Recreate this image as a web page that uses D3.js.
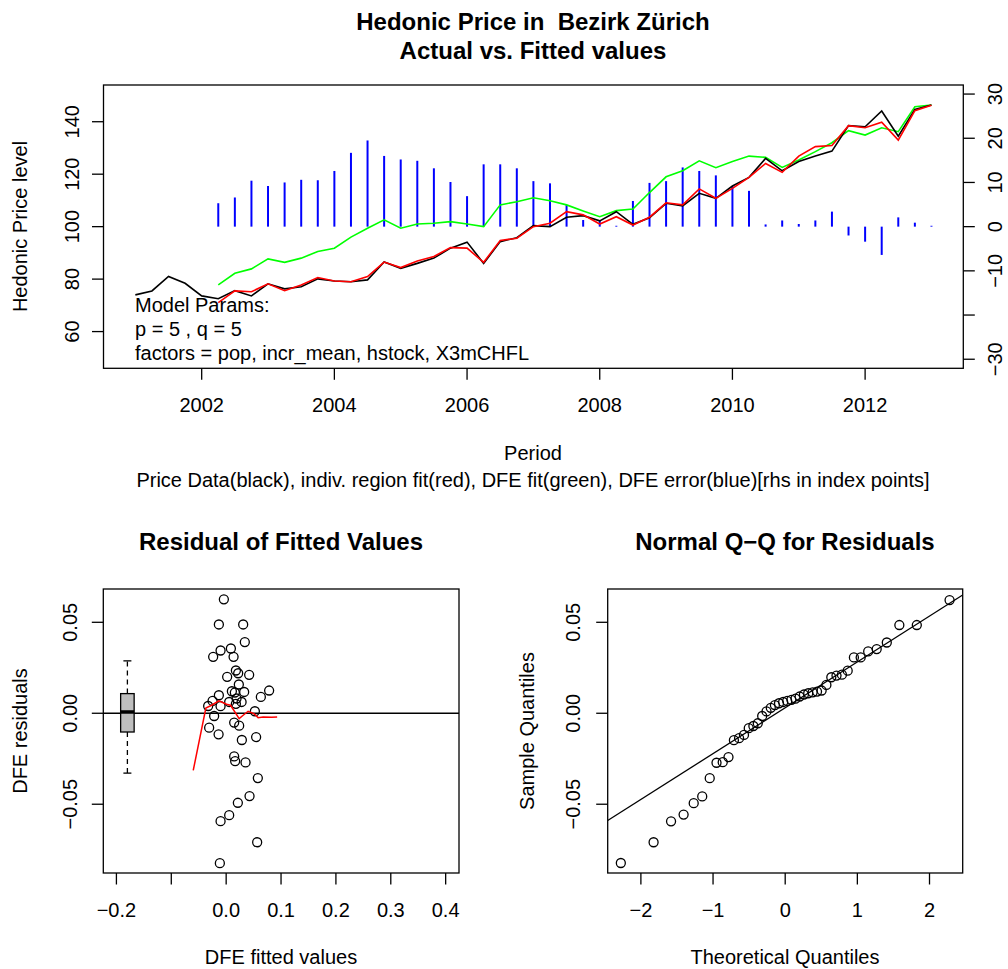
<!DOCTYPE html>
<html><head><meta charset="utf-8">
<script src="https://cdn.jsdelivr.net/npm/d3@7/dist/d3.min.js"></script>
<style>
body{margin:0;background:#fff}
text{font-family:"Liberation Sans",Arial,Helvetica,sans-serif;fill:#000}
</style>
</head><body><svg id="c" width="1008" height="969"></svg>
<script>
// ---------- top panel data ----------
const periods = [2001,2001.25,2001.5,2001.75,2002,2002.25,2002.5,2002.75,2003,2003.25,2003.5,2003.75,
  2004,2004.25,2004.5,2004.75,2005,2005.25,2005.5,2005.75,2006,2006.25,2006.5,2006.75,
  2007,2007.25,2007.5,2007.75,2008,2008.25,2008.5,2008.75,2009,2009.25,2009.5,2009.75,
  2010,2010.25,2010.5,2010.75,2011,2011.25,2011.5,2011.75,2012,2012.25,2012.5,2012.75,2013];
const actual = [74.0,75.5,81.0,78.4,73.6,72.5,75.6,73.6,78.2,76.3,77.1,80.1,
  79.3,79.0,79.7,86.5,84.1,86.0,88.0,91.8,94.1,86.0,94.3,95.8,
  100.4,100.0,103.6,104.2,102.2,105.7,100.9,103.4,108.9,107.9,112.7,110.8,
  115.5,118.8,126.0,121.3,124.8,126.9,128.8,138.5,138.1,144.1,134.5,144.7,146.4];
const periodsFit = periods.slice(5);
const regionFit = [71.0,75.5,75.2,78.2,75.6,77.8,80.6,79.3,79.0,81.0,86.5,
  84.4,86.9,88.6,92.0,91.8,86.4,94.7,95.6,100.0,101.3,105.7,104.5,
  101.0,103.8,100.6,103.6,109.1,108.3,114.4,110.8,114.6,118.8,124.1,120.7,
  126.9,130.5,130.9,138.5,137.7,139.8,133.0,144.2,146.3];
const dfeFit = [77.8,82.2,83.9,87.7,86.4,88.0,90.5,91.8,96.0,99.4,102.6,
  99.4,101.0,101.3,101.9,101.0,100.0,108.3,109.5,111.0,109.9,108.3,106.0,
  103.8,106.1,106.7,113.0,119.0,121.3,125.1,122.5,124.8,126.9,126.4,122.6,
  125.4,128.6,132.0,136.6,134.9,137.7,136.2,145.7,146.4];
const dfeError = [5.3,6.6,10.4,9.2,10.0,10.6,10.5,12.6,16.7,19.5,16.0,
  15.2,14.9,13.2,10.1,6.9,14.1,14.1,13.2,10.3,9.8,4.9,1.5,
  1.5,0.2,5.8,9.9,10.3,13.4,12.6,11.6,9.2,8.1,0.5,1.4,
  0.6,1.4,3.4,-2.0,-3.4,-6.4,2.1,0.9,0.2];
const yearTicks = [2002,2004,2006,2008,2010,2012];
const leftTicks = [60,80,100,120,140];
const rightTicks = [-30,-20,-10,0,10,20,30];
const rightTickLabels = ["\u221230","","\u221210","0","10","20","30"];
const modelText = ["Model Params:","p = 5 , q = 5","factors = pop, incr_mean, hstock, X3mCHFL"];

// ---------- residual scatter data ----------
const fitted = [-0.0042,-0.0133,0.031,0.034,-0.0102,0.0086,-0.0237,0.0135,0.0177,0.0219,0.0419,
  0.0018,0.0231,0.0104,0.0328,0.0783,0.0632,-0.0133,-0.0248,0.0158,0.0189,0.0281,
  0.0055,-0.0328,-0.0102,0.0523,-0.0219,0.0146,0.0237,-0.031,-0.0138,0.0546,
  0.0286,0.0146,0.0164,0.0353,0.0577,0.0426,0.0213,0.0055,-0.0102,0.0565,-0.0115,0.0177];
const resid = [0.0626,0.0488,0.0488,0.0391,0.0345,0.0356,0.0310,0.0310,0.0235,0.0220,0.0211,
  0.0200,0.0158,0.0121,0.0117,0.0125,0.0090,0.0099,0.0068,0.0114,0.0081,0.0062,
  0.0062,0.0040,0.0039,0.0011,-0.0015,-0.0051,-0.0068,-0.0079,-0.0116,-0.0131,
  -0.0147,-0.0237,-0.0263,-0.0270,-0.0356,-0.0455,-0.0492,-0.0560,-0.0593,-0.0709,-0.0824,0.0052];
const smoothX = [-0.060,-0.037,-0.0266,-0.0133,0.0007,0.008,0.0237,0.031,0.040,0.0505,0.0583,0.0674,0.0827,0.0929];
const smoothY = [-0.0314,0.0029,0.0044,0.0068,0.005,0.0044,-0.0029,-0.0011,0.0011,-0.0002,-0.0024,-0.002,-0.0022,-0.002];
const boxPos = -0.18;
const boxStats = [-0.0329,-0.0103,0.0007,0.0108,0.0288]; // whisker lo, Q1, median, Q3, whisker hi
const scatterXTicks = [-0.2,-0.1,0.0,0.1,0.2,0.3,0.4];
const scatterXLabels = ["\u22120.2","","0.0","0.1","0.2","0.3","0.4"];
const residTicks = [-0.05,0.00,0.05];
const residTickLabels = ["\u22120.05","0.00","0.05"];

// ---------- QQ data ----------
const qqTheo = [-2.278,-1.824,-1.582,-1.408,-1.268,-1.150,-1.046,-0.952,-0.866,-0.786,-0.711,
  -0.639,-0.571,-0.505,-0.441,-0.380,-0.319,-0.259,-0.200,-0.143,-0.086,-0.028,
  0.028,0.086,0.143,0.200,0.259,0.319,0.380,0.441,0.505,0.571,0.639,
  0.711,0.786,0.866,0.952,1.046,1.150,1.268,1.408,1.582,1.824,2.278];
const qqSample = [-0.0823,-0.0709,-0.0594,-0.0557,-0.0494,-0.0457,-0.0357,-0.0272,-0.0269,-0.0241,-0.0148,
  -0.0137,-0.0119,-0.0082,-0.0070,-0.0055,-0.0015,0.0010,0.0030,0.0045,0.0055,0.0062,
  0.0068,0.0074,0.0080,0.0092,0.0103,0.0110,0.0115,0.0119,0.0125,0.0156,0.0198,
  0.0207,0.0212,0.0234,0.0307,0.0307,0.0340,0.0353,0.0389,0.0485,0.0485,0.0622];
const qqXTicks = [-2,-1,0,1,2];
const qqXLabels = ["\u22122","\u22121","0","1","2"];

// ---------- drawing ----------
const svg = d3.select("#c");
svg.append("rect").attr("width",1008).attr("height",969).attr("fill","#fff");
const FS = 20, TFS = 24, TICK = 11.5;

function txt(x,y,s,opt={}){
  const t = svg.append("text").attr("x",x).attr("y",y).text(s)
    .attr("text-anchor",opt.anchor||"middle").attr("dominant-baseline","central")
    .attr("font-size",opt.size||FS).style("white-space","pre");
  if(opt.bold) t.attr("font-weight","bold");
  if(opt.rot) t.attr("transform",`rotate(-90,${x},${y})`);
  return t;
}
function box(L,T,R,B){
  svg.append("rect").attr("x",L).attr("y",T).attr("width",R-L).attr("height",B-T)
    .attr("fill","none").attr("stroke","#000").attr("stroke-width",1.3);
}
function hTicks(scale,vals,labels,yAxis,labelY){
  vals.forEach((v,i)=>{
    const x = scale(v);
    svg.append("line").attr("x1",x).attr("x2",x).attr("y1",yAxis).attr("y2",yAxis+TICK).attr("stroke","#000").attr("stroke-width",1.3);
    if(labels[i]) txt(x,labelY,labels[i]);
  });
}
function vTicks(scale,vals,labels,xAxis,dir,labelX){
  vals.forEach((v,i)=>{
    const y = scale(v);
    svg.append("line").attr("x1",xAxis).attr("x2",xAxis+dir*TICK).attr("y1",y).attr("y2",y).attr("stroke","#000").attr("stroke-width",1.3);
    if(labels[i]) txt(labelX,y,labels[i],{rot:true});
  });
}

// Top panel
const T = {L:103.5,R:963.3,T:85,B:368.3};
const xT = d3.scaleLinear().domain([2000.52,2013.48]).range([T.L,T.R]);
const yL = d3.scaleLinear().domain([46,154]).range([T.B,T.T]);
const yR = d3.scaleLinear().domain([-32.05,32.05]).range([T.B,T.T]);

// blue error bars
dfeError.forEach((v,i)=>{
  svg.append("line").attr("x1",xT(periodsFit[i])).attr("x2",xT(periodsFit[i]))
    .attr("y1",yR(0)).attr("y2",yR(v)).attr("stroke","#0000ff").attr("stroke-width",2);
});
const line = d3.line();
svg.append("path").attr("d",line(periodsFit.map((p,i)=>[xT(p),yL(dfeFit[i])])))
  .attr("fill","none").attr("stroke","#00ff00").attr("stroke-width",1.6);
svg.append("path").attr("d",line(periods.map((p,i)=>[xT(p),yL(actual[i])])))
  .attr("fill","none").attr("stroke","#000").attr("stroke-width",1.6);
svg.append("path").attr("d",line(periodsFit.map((p,i)=>[xT(p),yL(regionFit[i])])))
  .attr("fill","none").attr("stroke","#ff0000").attr("stroke-width",1.6);
box(T.L,T.T,T.R,T.B);
hTicks(xT,yearTicks,yearTicks.map(String),T.B,405);
vTicks(yL,leftTicks,leftTicks.map(String),T.L,-1,72.5);
vTicks(yR,rightTicks,rightTickLabels,T.R,1,995);
modelText.forEach((s,i)=>txt(135,305+i*23.8,s,{anchor:"start"}));
txt(533,21,"Hedonic Price in  Bezirk Z\u00fcrich",{bold:true,size:TFS});
txt(533,50,"Actual vs. Fitted values",{bold:true,size:TFS});
txt(533,453,"Period");
txt(533,480,"Price Data(black), indiv. region fit(red), DFE fit(green), DFE error(blue)[rhs in index points]");
txt(20,226.5,"Hedonic Price level",{rot:true});

// Bottom-left panel
const BL = {L:103.3,R:459,T:589,B:873};
const xS = d3.scaleLinear().domain([-0.2239,0.4243]).range([BL.L,BL.R]);
const yS = d3.scaleLinear().domain([-0.0878,0.0683]).range([BL.B,BL.T]);
svg.append("line").attr("x1",BL.L).attr("x2",BL.R).attr("y1",yS(0)).attr("y2",yS(0)).attr("stroke","#000").attr("stroke-width",1.3);
// boxplot
const bx = xS(boxPos), bw = 13.5, cap = 4;
svg.append("line").attr("x1",bx).attr("x2",bx).attr("y1",yS(boxStats[0])).attr("y2",yS(boxStats[1]))
  .attr("stroke","#000").attr("stroke-width",1.3).attr("stroke-dasharray","5,4");
svg.append("line").attr("x1",bx).attr("x2",bx).attr("y1",yS(boxStats[3])).attr("y2",yS(boxStats[4]))
  .attr("stroke","#000").attr("stroke-width",1.3).attr("stroke-dasharray","5,4");
[boxStats[0],boxStats[4]].forEach(v=>svg.append("line").attr("x1",bx-cap).attr("x2",bx+cap)
  .attr("y1",yS(v)).attr("y2",yS(v)).attr("stroke","#000").attr("stroke-width",1.3));
svg.append("rect").attr("x",bx-bw/2).attr("width",bw).attr("y",yS(boxStats[3]))
  .attr("height",yS(boxStats[1])-yS(boxStats[3])).attr("fill","#bebebe").attr("stroke","#000").attr("stroke-width",1.3);
svg.append("line").attr("x1",bx-bw/2).attr("x2",bx+bw/2).attr("y1",yS(boxStats[2])).attr("y2",yS(boxStats[2]))
  .attr("stroke","#000").attr("stroke-width",3.5);
// points
fitted.forEach((f,i)=>svg.append("circle").attr("cx",xS(f)).attr("cy",yS(resid[i])).attr("r",4.5)
  .attr("fill","none").attr("stroke","#000").attr("stroke-width",1.3));
svg.append("path").attr("d",line(smoothX.map((x,i)=>[xS(x),yS(smoothY[i])])))
  .attr("fill","none").attr("stroke","#ff0000").attr("stroke-width",1.5);
box(BL.L,BL.T,BL.R,BL.B);
hTicks(xS,scatterXTicks,scatterXLabels,BL.B,910);
vTicks(yS,residTicks,residTickLabels,BL.L,-1,70);
txt(281,541,"Residual of Fitted Values",{bold:true,size:TFS});
txt(281,957,"DFE fitted values");
txt(20,731,"DFE residuals",{rot:true});

// Bottom-right panel (QQ)
const BR = {L:607.7,R:962.7,T:589,B:873};
const xQ = d3.scaleLinear().domain([-2.460,2.460]).range([BR.L,BR.R]);
const yQ = d3.scaleLinear().domain([-0.0878,0.0683]).range([BR.B,BR.T]);
// qqline through quartiles
const q1 = d3.quantile(qqSample,0.25), q3 = d3.quantile(qqSample,0.75);
const slope = (q3-q1)/(2*0.6744898), icpt = q1 + slope*0.6744898;
const clipId = "qqclip";
svg.append("clipPath").attr("id",clipId).append("rect").attr("x",BR.L).attr("y",BR.T).attr("width",BR.R-BR.L).attr("height",BR.B-BR.T);
const xd = xQ.domain();
svg.append("line").attr("clip-path",`url(#${clipId})`)
  .attr("x1",xQ(xd[0])).attr("y1",yQ(icpt+slope*xd[0])).attr("x2",xQ(xd[1])).attr("y2",yQ(icpt+slope*xd[1]))
  .attr("stroke","#000").attr("stroke-width",1.3);
qqTheo.forEach((q,i)=>svg.append("circle").attr("cx",xQ(q)).attr("cy",yQ(qqSample[i])).attr("r",4.5)
  .attr("fill","none").attr("stroke","#000").attr("stroke-width",1.3));
box(BR.L,BR.T,BR.R,BR.B);
hTicks(xQ,qqXTicks,qqXLabels,BR.B,910);
vTicks(yQ,residTicks,residTickLabels,BR.L,-1,573);
txt(785,541,"Normal Q\u2212Q for Residuals",{bold:true,size:TFS});
txt(785,957,"Theoretical Quantiles");
txt(527,731,"Sample Quantiles",{rot:true});
</script></body></html>
